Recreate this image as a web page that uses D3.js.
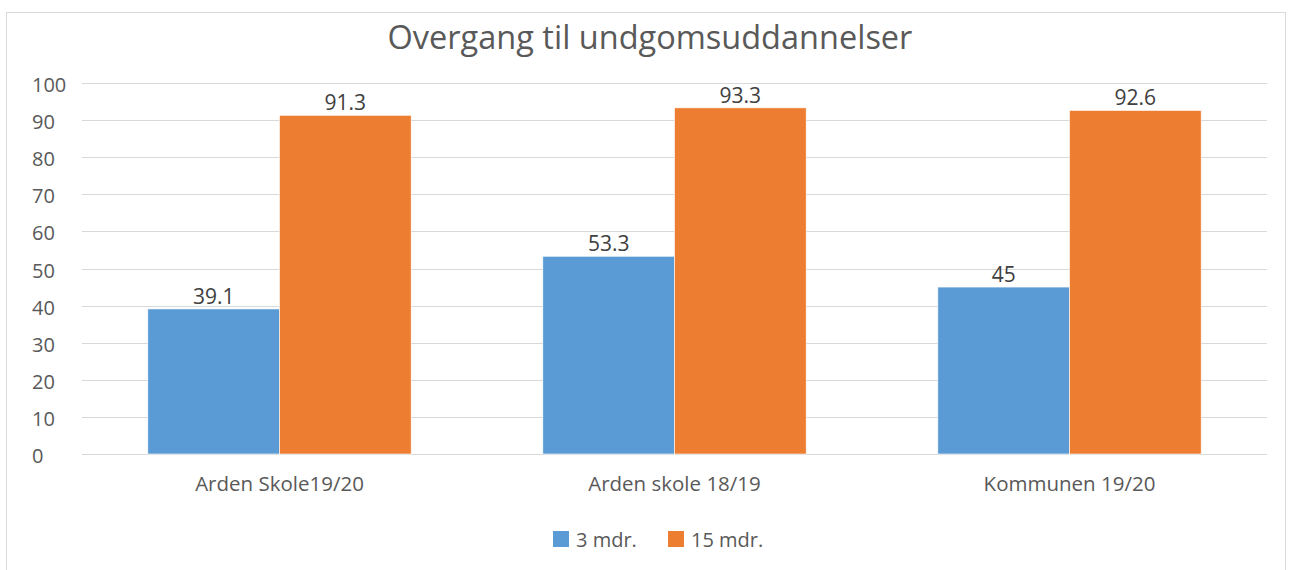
<!DOCTYPE html>
<html>
<head>
<meta charset="utf-8">
<script src="https://cdn.jsdelivr.net/npm/d3@7"></script>
<style>
  html, body { margin: 0; padding: 0; background: #ffffff; }
  svg { display: block; font-family: "Open Sans", "Noto Sans", sans-serif; }
</style>
</head>
<body>
<div id="chart"></div>
<script>
// Chart data
const categories = ['Arden Skole19/20', 'Arden skole 18/19', 'Kommunen 19/20'];
const seriesNames = ['3 mdr.', '15 mdr.'];
const threeMonths = [39.1, 53.3, 45];
const fifteenMonths = [91.3, 93.3, 92.6];
const yTicks = [0, 10, 20, 30, 40, 50, 60, 70, 80, 90, 100];

const width = 1292, height = 570;
const colors = ['#5b9bd5', '#ed7d31'];
const textColor = '#595959';

const margin = { top: 83, right: 25, bottom: 116, left: 82 };
const plotW = width - margin.left - margin.right;
const plotH = height - margin.top - margin.bottom;

const svg = d3.select('#chart')
  .append('svg')
  .attr('width', width)
  .attr('height', height);

// Outer chart border
svg.append('rect')
  .attr('x', 6.5).attr('y', 12.5)
  .attr('width', 1279).attr('height', 570)
  .attr('fill', '#ffffff')
  .attr('stroke', '#d9d9d9')
  .attr('stroke-width', 1);

svg.append('text')
  .attr('x', 650).attr('y', 49)
  .attr('text-anchor', 'middle')
  .attr('font-size', '32.5px')
  .attr('fill', textColor)
  .text('Overgang til undgomsuddannelser');

const g = svg.append('g').attr('transform', `translate(${margin.left},${margin.top})`);

const y = d3.scaleLinear().domain([0, 100]).range([plotH, 0]);
const x0 = d3.scaleBand().domain(categories).range([0, plotW])
  .paddingInner(1 / 3).paddingOuter(1 / 6);
const x1 = d3.scaleBand().domain(seriesNames).range([0, x0.bandwidth()]);

// Gridlines
g.append('g')
  .selectAll('line')
  .data(yTicks)
  .join('line')
  .attr('x1', 0).attr('x2', plotW)
  .attr('y1', d => Math.round(y(d)) + 0.5)
  .attr('y2', d => Math.round(y(d)) + 0.5)
  .attr('stroke', '#d9d9d9')
  .attr('stroke-width', 1);

// Y axis labels (left-aligned, as in the source)
g.append('g')
  .selectAll('text')
  .data(yTicks)
  .join('text')
  .attr('x', 32 - margin.left)
  .attr('y', d => y(d) + 9)
  .attr('font-size', '20px')
  .attr('fill', textColor)
  .text(d => d);

// X axis labels
const xAxis = g.append('g')
  .attr('transform', `translate(0,${plotH})`)
  .call(d3.axisBottom(x0).tickSize(0).tickPadding(22));
xAxis.select('.domain').remove();
xAxis.selectAll('text')
  .attr('font-size', '20.5px')
  .attr('font-family', '"Open Sans", sans-serif')
  .attr('fill', textColor);

const rows = categories.map((c, i) => ({
  category: c,
  values: [
    { series: seriesNames[0], value: threeMonths[i], color: colors[0] },
    { series: seriesNames[1], value: fifteenMonths[i], color: colors[1] }
  ]
}));

const groups = g.append('g')
  .selectAll('g')
  .data(rows)
  .join('g')
  .attr('transform', d => `translate(${x0(d.category)},0)`);

groups.selectAll('rect')
  .data(d => d.values)
  .join('rect')
  .attr('x', d => x1(d.series))
  .attr('y', d => y(d.value))
  .attr('width', x1.bandwidth())
  .attr('height', d => y(0) - y(d.value))
  .attr('fill', d => d.color)
  .attr('stroke', '#ffffff')
  .attr('stroke-width', 0.6);

groups.selectAll('text.label')
  .data(d => d.values)
  .join('text')
  .attr('class', 'label')
  .attr('x', d => x1(d.series) + x1.bandwidth() / 2)
  .attr('y', d => y(d.value) - 5)
  .attr('text-anchor', 'middle')
  .attr('font-size', '21px')
  .attr('fill', '#404040')
  .text(d => d.value);

// Legend
const legend = svg.append('g').attr('transform', 'translate(553,531)');
const legendX = [0, 115];
seriesNames.forEach((name, i) => {
  const item = legend.append('g').attr('transform', `translate(${legendX[i]},0)`);
  item.append('rect')
    .attr('width', 16).attr('height', 16)
    .attr('fill', colors[i]);
  item.append('text')
    .attr('x', 23).attr('y', 16)
    .attr('font-size', '20px')
    .attr('fill', textColor)
    .text(name);
});
</script>
</body>
</html>
